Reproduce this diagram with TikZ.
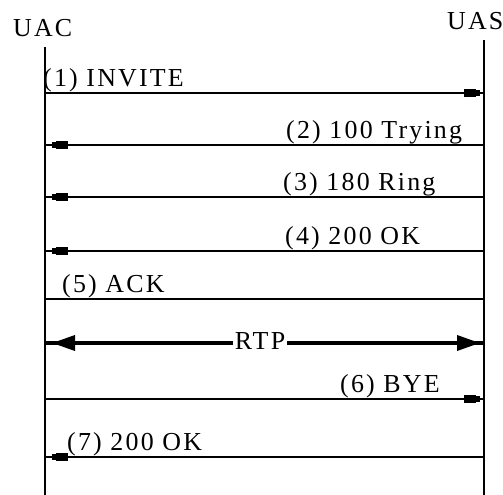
\documentclass[tikz,border=0pt]{standalone}
\usepackage{fontspec}
\setmainfont{Liberation Serif}[LetterSpace=8.5]
\usetikzlibrary{arrows.meta,decorations.markings}
\begin{document}
\begin{tikzpicture}[x=1bp,y=-1bp,
  lbl/.style={inner sep=0pt, anchor=base west, font=\fontsize{26}{30}\selectfont},
  life/.style={line width=1.5bp},
  msg/.style={line width=1.3bp},
  tipend/.style={postaction={decorate}, decoration={markings,
     mark=at position -#1 with {\fill (-16bp,-4.2bp) rectangle (-4bp,4.2bp);
                                \fill (-4.5bp,-2.6bp) rectangle (0bp,2.6bp);}}},
  rtpline/.style={line width=3.5bp, postaction={decorate}, decoration={markings,
     mark=at position 7bp with {\arrowreversed{Triangle[length=23bp,width=15bp]}},
     mark=at position -4bp with {\arrow{Triangle[length=23bp,width=15bp]}}}}
]
\useasboundingbox (0,0) rectangle (503,495);
% participants
\node[lbl] (uac) at (13,37) {UAC};
\node[lbl] (uas) at (447,30) {UAS};
\coordinate (uacT) at (45,47);
\coordinate (uacB) at (45,495);
\coordinate (uasT) at (484,40);
\coordinate (uasB) at (484,495);
\draw[life] (uacT) -- (uacB);
\draw[life] (uasT) -- (uasB);
% message anchor points
\foreach \n/\y in {1/93,2/145,3/197,4/251,5/299,r/343,6/399,7/457}{
  \coordinate (c\n) at (45,\y);
  \coordinate (s\n) at (484,\y);
}
% messages
\draw[msg, tipend=4bp] (c1) -- (s1);
\node[lbl] (m1) at (43,86.5) {(1) INVITE};
\draw[msg, tipend=7bp] (s2) -- (c2);
\node[lbl] (m2) at (286,138.5) {(2) 100 Trying};
\draw[msg, tipend=7bp] (s3) -- (c3);
\node[lbl] (m3) at (283,190.5) {(3) 180 Ring};
\draw[msg, tipend=7bp] (s4) -- (c4);
\node[lbl] (m4) at (285,244.5) {(4) 200 OK};
\draw[msg] (c5) -- (s5);
\node[lbl] (m5) at (62,292.5) {(5) ACK};
\draw[rtpline] (cr) -- (sr);
\node[font=\fontsize{26}{30}\selectfont, fill=white, inner sep=2bp] (rtp) at (260,341) {RTP};
\draw[msg, tipend=4bp] (c6) -- (s6);
\node[lbl] (m6) at (340,392.5) {(6) BYE};
\draw[msg, tipend=7bp] (s7) -- (c7);
\node[lbl] (m7) at (67,450.5) {(7) 200 OK};
\end{tikzpicture}
\end{document}
